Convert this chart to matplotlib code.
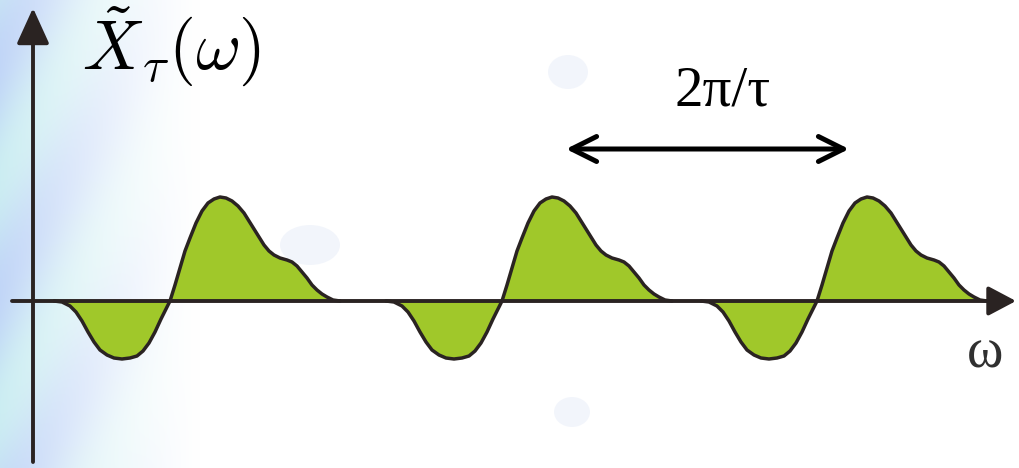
import numpy as np
import matplotlib
matplotlib.use("Agg")
import matplotlib.pyplot as plt
from matplotlib.patches import Ellipse

plt.rcParams['mathtext.fontset'] = 'cm'

# zero crossings of each repeated lobe (pixel-ish units along omega)
crossings = [170, 502, 817]

# one period of the spectrum shape
# offset from the zero crossing, amplitude above the axis
shape_dx = [-116, -108, -100, -94, -88, -82, -76, -70, -63, -56, -48, -40, -33,
            -27, -21, -15, -9, -4, 0, 5, 10, 15, 20, 26, 32, 38, 44, 50, 56, 62,
            68, 74, 79, 84, 89, 94, 99, 104, 110, 117, 122, 127, 132, 137, 142,
            147, 152, 157, 163, 170]
shape_amp = [0, -1, -5, -11, -20, -31, -41, -49, -54, -57, -58, -57, -55,
             -50, -42, -31, -18, -8, 0, 16, 33, 50, 63, 78, 90, 98, 102, 104,
             103, 100, 95, 88, 80, 72, 64, 56, 50, 46, 43, 41, 39, 35, 29, 23,
             16, 11, 7, 4, 1, 0]

y_label = r'$\tilde{X}_{\tau}(\omega)$'
period_label = '2π/τ'
x_label = 'ω'

fill_col = '#a0c82a'
ink = '#2a2322'

fig = plt.figure(figsize=(10.2, 4.68), dpi=100)
ax = fig.add_axes([0, 0, 1, 1])
ax.set_xlim(0, 1020)
ax.set_ylim(301 - 468, 301)
ax.axis('off')

# soft blue background on the left side
cols = np.arange(1020)
t = np.clip(1 - cols / 200.0, 0, 1) ** 1.3
rows = np.arange(468)[:, None]
wave = 0.5 + 0.5 * np.sin(rows / 37.0 + cols[None, :] / 23.0)
base = np.array([1.0, 1.0, 1.0])
blue = np.array([0.76, 0.84, 0.97])
cyan = np.array([0.80, 0.93, 0.95])
tint = blue * wave[..., None] + cyan * (1 - wave[..., None])
img = base * (1 - t[None, :, None]) + tint * t[None, :, None]
ax.imshow(img, extent=[0, 1020, 301 - 468, 301], aspect='auto', zorder=0)
for cx, cy, w, h in [(568, 301 - 72, 40, 34), (572, 301 - 412, 36, 30),
                     (310, 301 - 245, 60, 40)]:
    ax.add_patch(Ellipse((cx, cy), w, h, color='#e6ecf8', alpha=0.5, lw=0, zorder=0.5))

# axes with arrows
ax.annotate('', xy=(1016, 0), xytext=(12, 0),
            arrowprops=dict(arrowstyle='-|>,head_length=0.85,head_width=0.45',
                            mutation_scale=20, color=ink, lw=2.8,
                            shrinkA=0, shrinkB=0), zorder=3)
ax.annotate('', xy=(33, 301 - 8), xytext=(33, 301 - 462),
            arrowprops=dict(arrowstyle='-|>,head_length=1.1,head_width=0.5',
                            mutation_scale=20, color=ink, lw=2.8,
                            shrinkA=0, shrinkB=0), zorder=3)

# the repeated lobes
dx = np.array(shape_dx)
amp = np.array(shape_amp)
for c in crossings:
    xs = c + dx
    ax.fill_between(xs, 0, amp, color=fill_col, lw=0, zorder=2)
    ax.plot(xs, amp, color=ink, lw=2.5, zorder=4, solid_capstyle='round')

# period marker
ax.annotate('', xy=(849, 301 - 149), xytext=(566, 301 - 149),
            arrowprops=dict(arrowstyle='<->,head_length=0.9,head_width=0.45',
                            mutation_scale=20, color='black', lw=3.6,
                            shrinkA=0, shrinkB=0), zorder=5)
ax.text(675, 301 - 105, period_label, family='Liberation Serif', fontsize=41,
        ha='left', va='baseline', color='black', zorder=5)

ax.text(82, 301 - 70, y_label, fontsize=50, ha='left', va='baseline',
        color='black', zorder=5)
ax.text(985, 301 - 354, x_label, family='Liberation Serif', fontsize=40,
        ha='center', va='center', color='#303030', zorder=5)

fig.savefig('out.png', dpi=100)
